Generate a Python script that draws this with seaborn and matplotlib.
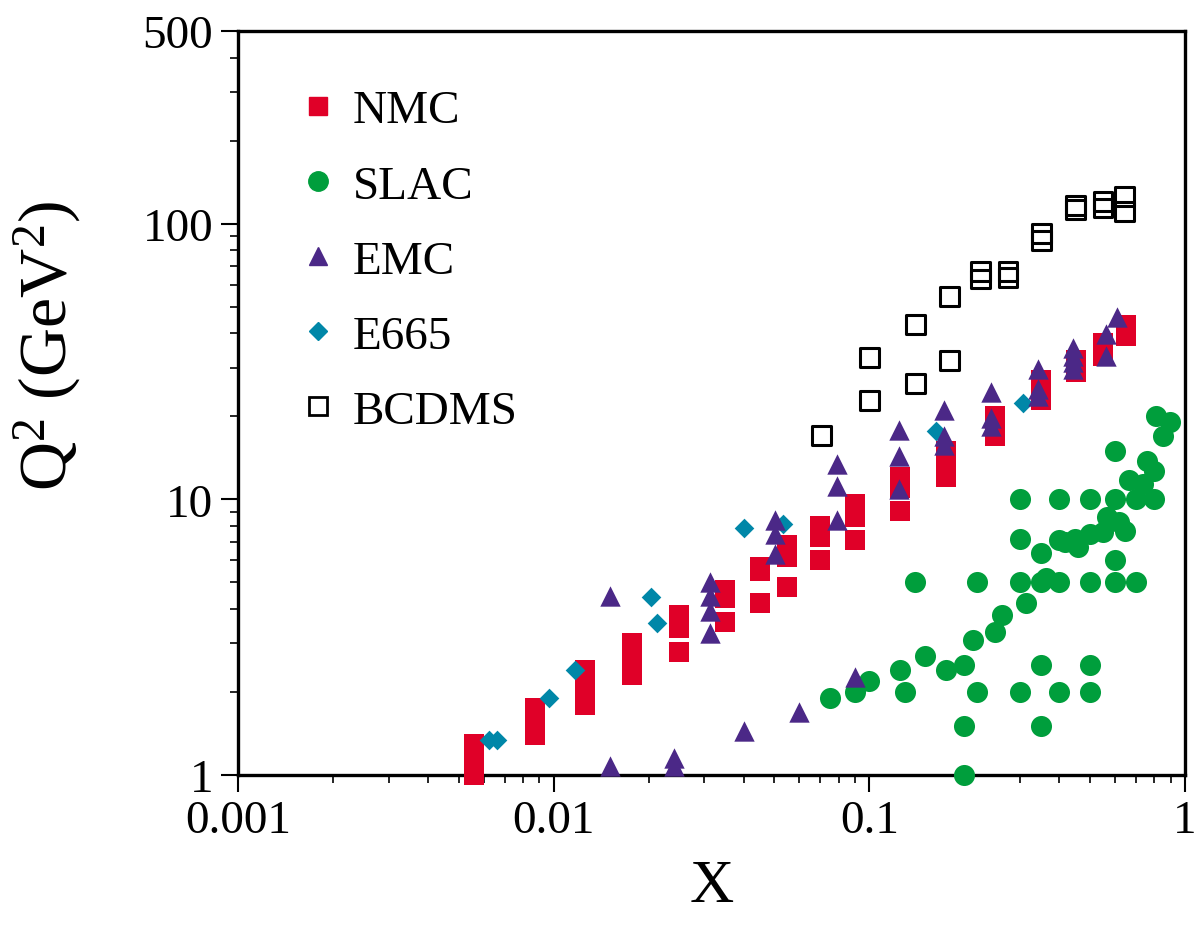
import matplotlib
matplotlib.use("Agg")
import matplotlib.pyplot as plt
import matplotlib.ticker as mticker
from matplotlib.lines import Line2D
import seaborn as sns

# ---------------- data ----------------
nmc_x = [0.0056]*4 + [0.0087]*3 + [0.0126]*4 + [0.0177]*3 + [0.025]*3 + [0.035]*3 + [0.045]*3 + \
        [0.055]*3 + [0.07]*3 + [0.09]*3 + [0.125]*3 + [0.175]*3 + [0.25]*2 + [0.35]*3 + [0.45]*2 + \
        [0.55]*3 + [0.65]*2
nmc_q2 = [1.0, 1.1, 1.2, 1.3,
          1.4, 1.55, 1.75,
          1.8, 2.0, 2.2, 2.4,
          2.3, 2.6, 3.0,
          2.8, 3.4, 3.8,
          3.6, 4.4, 4.7,
          4.2, 5.5, 5.7,
          4.8, 6.2, 6.8,
          6.0, 7.3, 8.0,
          7.1, 8.6, 9.6,
          9.1, 11.0, 12.0,
          12.0, 13.5, 15.0,
          17.0, 20.0,
          23.0, 25.0, 27.0,
          29.0, 32.0,
          33.0, 35.0, 37.0,
          39.0, 43.0]

slac_x = [0.075, 0.09, 0.1, 0.125, 0.13, 0.14, 0.15, 0.175, 0.2, 0.2, 0.2, 0.213, 0.22, 0.22,
          0.25, 0.264, 0.3, 0.3, 0.3, 0.3, 0.314, 0.35, 0.35, 0.363, 0.35, 0.35, 0.4, 0.4, 0.4,
          0.4, 0.417, 0.459, 0.449, 0.5, 0.5, 0.5, 0.5, 0.5, 0.55, 0.567, 0.6, 0.6, 0.6, 0.6,
          0.618, 0.646, 0.665, 0.7, 0.7, 0.736, 0.758, 0.8, 0.8, 0.81, 0.852, 0.897]
slac_q2 = [1.9, 2.0, 2.2, 2.4, 2.0, 5.0, 2.7, 2.4, 2.5, 1.5, 1.0, 3.1, 5.0, 2.0,
           3.3, 3.8, 10.0, 7.2, 5.0, 2.0, 4.2, 6.4, 5.0, 5.2, 2.5, 1.5, 10.0, 7.1, 5.0,
           2.0, 7.0, 6.7, 7.2, 10.0, 7.5, 5.0, 2.5, 2.0, 7.6, 8.6, 15.0, 10.0, 6.0, 5.0,
           8.3, 7.7, 11.8, 10.0, 5.0, 11.4, 13.8, 12.7, 10.0, 20.0, 17.0, 19.1]

emc_x = [0.0151, 0.0151, 0.0241, 0.0241, 0.0312, 0.0312, 0.0312, 0.0312, 0.040, 0.0504, 0.0504,
         0.0504, 0.06, 0.0792, 0.0792, 0.0792, 0.09, 0.124, 0.124, 0.124, 0.173, 0.173, 0.173,
         0.243, 0.243, 0.243, 0.343, 0.343, 0.343, 0.442, 0.442, 0.442, 0.442, 0.562, 0.562, 0.609]
emc_q2 = [4.46, 1.08, 1.15, 1.08, 5.0, 4.46, 3.93, 3.27, 1.44, 8.4, 7.5,
          6.34, 1.69, 13.4, 11.2, 8.4, 2.27, 17.8, 14.3, 10.9, 21.0, 17.0, 15.8,
          24.5, 19.8, 18.5, 29.6, 25.1, 23.7, 35.4, 33.0, 31.5, 29.6, 39.9, 33.0, 45.9]

e665_x = [0.00623, 0.0066, 0.00965, 0.01165, 0.0204, 0.0212, 0.0402, 0.0534, 0.163, 0.307]
e665_q2 = [1.34, 1.34, 1.9, 2.4, 4.42, 3.56, 7.86, 8.13, 17.7, 22.4]

bcdms_x = [0.0705, 0.1, 0.1, 0.14, 0.14, 0.18, 0.18, 0.225, 0.225, 0.275, 0.275, 0.35, 0.35,
           0.45, 0.45, 0.55, 0.55, 0.645, 0.645]
bcdms_q2 = [17.0, 32.8, 22.8, 43.1, 26.4, 54.6, 31.8, 67.3, 63.0, 67.0, 64.0, 91.9, 86.8,
            112.8, 116.0, 114.0, 120.0, 111.0, 125.0]

series = ["NMC", "SLAC", "EMC", "E665", "BCDMS"]
x_ticks = [0.001, 0.01, 0.1, 1]
x_tick_labels = ["0.001", "0.01", "0.1", "1"]
y_ticks = [1, 10, 100, 500]
y_tick_labels = ["1", "10", "100", "500"]

# ---------------- style ----------------
sns.set_theme(style="ticks")
plt.rcParams["font.family"] = ["Liberation Serif", "DejaVu Serif"]
plt.rcParams["mathtext.fontset"] = "custom"
plt.rcParams["mathtext.rm"] = "Liberation Serif"
plt.rcParams["mathtext.it"] = "Liberation Serif:italic"
plt.rcParams["text.color"] = "black"
plt.rcParams["axes.labelcolor"] = "black"
plt.rcParams["xtick.color"] = "black"
plt.rcParams["ytick.color"] = "black"
plt.rcParams["xtick.labelcolor"] = "black"
plt.rcParams["ytick.labelcolor"] = "black"

RED = "#E00028"
GREEN = "#009E3C"
PURPLE = "#4B2887"
TEAL = "#0087A8"

fig, ax = plt.subplots(figsize=(11.96, 9.29), dpi=100)
fig.subplots_adjust(left=0.199, right=0.9908, top=0.9656, bottom=0.1647)

sns.scatterplot(x=nmc_x, y=nmc_q2, marker="s", color=RED, s=207, linewidth=0, ax=ax,
                zorder=3, clip_on=False)
sns.scatterplot(x=slac_x, y=slac_q2, marker="o", color=GREEN, s=230, linewidth=0, ax=ax,
                zorder=3, clip_on=False)
sns.scatterplot(x=e665_x, y=e665_q2, marker="D", color=TEAL, s=100, linewidth=0, ax=ax,
                zorder=4, clip_on=False)
sns.scatterplot(x=emc_x, y=emc_q2, marker="^", color=PURPLE, s=215, linewidth=0, ax=ax,
                zorder=5, clip_on=False)
sns.scatterplot(x=bcdms_x, y=bcdms_q2, marker="s", color="none", edgecolor="black",
                s=185, linewidth=2.2, ax=ax, zorder=6, clip_on=False)

ax.set_xscale("log")
ax.set_yscale("log")
ax.set_xlim(0.001, 1)
ax.set_ylim(1, 500)

ax.set_xticks(x_ticks)
ax.set_xticklabels(x_tick_labels)
ax.set_yticks(y_ticks)
ax.set_yticklabels(y_tick_labels)
ax.xaxis.set_minor_locator(mticker.LogLocator(base=10, subs=range(2, 10), numticks=20))
ax.yaxis.set_minor_locator(mticker.LogLocator(base=10, subs=range(2, 10), numticks=20))
ax.xaxis.set_minor_formatter(mticker.NullFormatter())
ax.yaxis.set_minor_formatter(mticker.NullFormatter())

ax.tick_params(axis="both", which="major", direction="out", length=12, width=1.5,
               labelsize=34, pad=6, colors="black")
ax.tick_params(axis="both", which="minor", direction="out", length=6, width=1.2, colors="black")
ax.tick_params(top=False, right=False, which="both")

for sp in ax.spines.values():
    sp.set_visible(True)
    sp.set_linewidth(2.4)
    sp.set_color("black")
    sp.set_zorder(2)

ax.set_xlabel("X", fontsize=44, color="black")
ax.set_ylabel("Q$^2$ (GeV$^2$)", fontsize=49, color="black")
ax.xaxis.set_label_coords(0.5, -0.112)
ax.yaxis.set_label_coords(-0.163, 0.578)

handles = [
    Line2D([], [], marker="s", color=RED, linestyle="none", markersize=13),
    Line2D([], [], marker="o", color=GREEN, linestyle="none", markersize=14),
    Line2D([], [], marker="^", color=PURPLE, linestyle="none", markersize=13),
    Line2D([], [], marker="D", color=TEAL, linestyle="none", markersize=9.5),
    Line2D([], [], marker="s", markerfacecolor="none", markeredgecolor="black",
           markeredgewidth=2, linestyle="none", markersize=12.5),
]
leg = ax.legend(handles, series, loc="upper left", bbox_to_anchor=(0.040, 0.947),
                frameon=False, fontsize=34, handlelength=1.0, handletextpad=0.22,
                labelspacing=0.68, borderaxespad=0, labelcolor="black")

fig.savefig("out.png", dpi=100)
